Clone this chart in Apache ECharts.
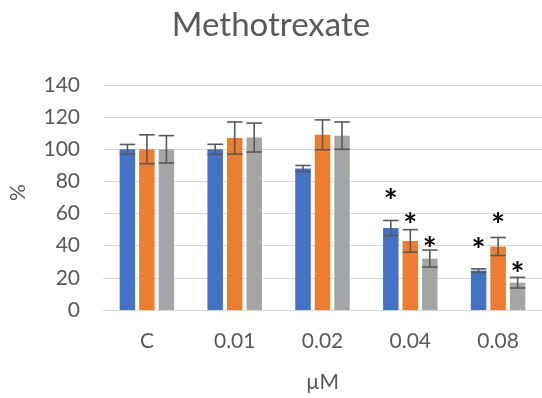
<!DOCTYPE html>
<html>
<head>
<meta charset="utf-8">
<script src="https://cdn.jsdelivr.net/npm/echarts@6/dist/echarts.min.js"></script>
<style>html,body{margin:0;padding:0;background:#fff}#c{width:542px;height:398px}</style>
</head>
<body>
<div id="c"></div>
<script>
const categories = ['C', '0.01', '0.02', '0.04', '0.08'];
const blueVals = [100, 100, 88, 51, 24.5];
const blueErr = [3, 3.1, 1.9, 4.7, 1.1];
const orangeVals = [100, 107, 109, 43, 39.5];
const orangeErr = [9, 10, 9.3, 7, 5.6];
const grayVals = [100, 107.3, 108.5, 32, 17];
const grayErr = [8.5, 9, 8.5, 5.3, 3.3];
// asterisk positions (value units), null = no asterisk
const blueStar = [null, null, null, 73, 43];
const orangeStar = [null, null, null, 58, 58];
const grayStar = [null, null, null, 43.5, 27.5];
const yTicks = [0, 20, 40, 60, 80, 100, 120, 140];

const colors = ['#4472C4', '#ED7D31', '#A5A5A5'];
const BAR_W = 15.5, GAP = 4, STEP = BAR_W + GAP;
const FONT = 'Lato';

function errSeries(vals, errs, stars, idx) {
  return {
    type: 'custom',
    z: 10,
    data: vals.map((v, k) => [k, v + errs[k], v - errs[k], stars[k] == null ? -1 : stars[k]]),
    renderItem: function (params, api) {
      const hi = api.coord([api.value(0), api.value(1)]);
      const lo = api.coord([api.value(0), api.value(2)]);
      const x = hi[0] + (idx - 1) * STEP;
      const hw = BAR_W / 2;
      const st = { stroke: '#595959', lineWidth: 1.6 };
      const children = [
        { type: 'line', shape: { x1: x, y1: hi[1], x2: x, y2: lo[1] }, style: st },
        { type: 'line', shape: { x1: x - hw, y1: hi[1], x2: x + hw, y2: hi[1] }, style: st },
        { type: 'line', shape: { x1: x - hw, y1: lo[1], x2: x + hw, y2: lo[1] }, style: st }
      ];
      const s = api.value(3);
      if (s >= 0) {
        const sp = api.coord([api.value(0), s]);
        children.push({
          type: 'text',
          style: { text: '*', x: x, y: sp[1] + 10, textAlign: 'center', textVerticalAlign: 'middle',
            fill: '#000', font: 'bold 33px ' + FONT }
        });
      }
      return { type: 'group', children: children };
    }
  };
}

const chart = echarts.init(document.getElementById('c'));
chart.setOption({
  animation: false,
  title: {
    text: 'Methotrexate', left: 'center', top: 4,
    textStyle: { fontFamily: FONT, fontSize: 33, fontWeight: 'normal', color: '#595959' }
  },
  grid: { left: 103, right: 0, top: 85, bottom: 88 },
  xAxis: {
    type: 'category', data: categories,
    name: 'µM', nameLocation: 'middle', nameGap: 62,
    nameTextStyle: { fontFamily: FONT, fontSize: 21, color: '#595959' },
    axisLine: { lineStyle: { color: '#D9D9D9', width: 1 } },
    axisTick: { show: false },
    axisLabel: { fontFamily: FONT, fontSize: 21, color: '#595959', margin: 21 }
  },
  yAxis: {
    type: 'value', min: yTicks[0], max: yTicks[yTicks.length - 1], interval: 20,
    name: '%', nameLocation: 'middle', nameGap: 74, nameRotate: 90,
    nameTextStyle: { fontFamily: FONT, fontSize: 21, color: '#595959', padding: [0, 0, 0, 10] },
    axisLine: { show: false }, axisTick: { show: false },
    axisLabel: { fontFamily: FONT, fontSize: 21, color: '#595959', margin: 23 },
    splitLine: { lineStyle: { color: '#D9D9D9', width: 1 } }
  },
  series: [
    { type: 'bar', data: blueVals, barWidth: BAR_W, barGap: (GAP / BAR_W * 100) + '%', itemStyle: { color: colors[0] } },
    { type: 'bar', data: orangeVals, barWidth: BAR_W, barGap: (GAP / BAR_W * 100) + '%', itemStyle: { color: colors[1] } },
    { type: 'bar', data: grayVals, barWidth: BAR_W, barGap: (GAP / BAR_W * 100) + '%', itemStyle: { color: colors[2] } },
    errSeries(blueVals, blueErr, blueStar, 0),
    errSeries(orangeVals, orangeErr, orangeStar, 1),
    errSeries(grayVals, grayErr, grayStar, 2)
  ]
});
</script>
</body>
</html>
